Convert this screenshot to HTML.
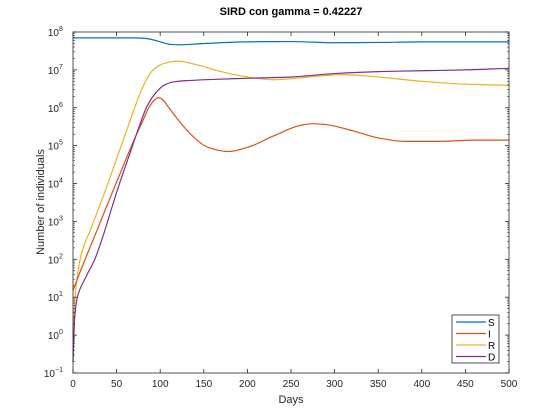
<!DOCTYPE html>
<html><head><meta charset="utf-8"><style>
html,body{margin:0;padding:0;background:#fff;}
svg{display:block;font-family:"Liberation Sans",Helvetica,Arial,sans-serif;}
</style></head><body>
<svg id="chart" width="560" height="420" viewBox="0 0 560 420" xmlns="http://www.w3.org/2000/svg">
<rect x="0" y="0" width="560" height="420" fill="#fff"/>
<rect x="73" y="32" width="436" height="341" fill="#fff"/>
<g id="marks"></g>
<g id="axes"></g>
<text x="291" y="15" text-anchor="middle" font-size="11" font-weight="bold" fill="#000">SIRD con gamma = 0.42227</text>
<text x="291" y="403" text-anchor="middle" font-size="11" fill="#262626">Days</text>
<text transform="translate(44,202) rotate(-90)" text-anchor="middle" font-size="11" fill="#262626">Number of individuals</text>
<g>
<rect x="452" y="315" width="47" height="48" fill="#fff" stroke="#262626" stroke-width="0.8"/>
<g id="legend-items"></g>
</g>
</svg>
<script>
const seriesNames = ["S","I","R","D"];
const seriesColors = ["#0072BD","#D95319","#EDB120","#7E2F8E"];
const xTicks = [0,50,100,150,200,250,300,350,400,450,500];
const yTickExps = [-1,0,1,2,3,4,5,6,7,8];

const sDays = [0,70,85,100,112,125,145,200,250,300,350,400,500];
const sVals = [7e7,7e7,6.7e7,5.5e7,4.7e7,4.6e7,4.9e7,5.5e7,5.6e7,5.2e7,5.3e7,5.5e7,5.5e7];

const iDays = [0,10,20,30,40,50,60,70,80,88,94,98,102,110,120,135,155,178,200,230,260,275,290,320,350,380,420,460,500];
const iVals = [15,60,220,800,3000,1.1e4,4e4,1.4e5,4.5e5,1.1e6,1.65e6,1.85e6,1.7e6,1e6,5e5,2e5,9e4,7e4,9e4,1.8e5,3.4e5,3.8e5,3.6e5,2.5e5,1.6e5,1.3e5,1.3e5,1.4e5,1.4e5];

const rDays = [0,3,10,20,30,40,50,60,70,80,90,100,110,120,140,170,200,230,270,310,350,400,450,500];
const rVals = [1,15,150,600,2400,1e4,4.5e4,2e5,9e5,3.5e6,9e6,1.35e7,1.6e7,1.7e7,1.4e7,9e6,6.5e6,5.5e6,6.5e6,7.5e6,6.5e6,5e6,4.2e6,3.9e6];

const dDays = [0,2,5,15,25,35,45,55,65,75,85,95,105,115,130,160,200,250,300,350,400,450,500];
const dVals = [0.2,3,10,35,100,450,2500,1.3e4,6e4,2.8e5,1.1e6,2.5e6,4e6,4.8e6,5.2e6,5.6e6,6e6,6.5e6,8e6,9e6,9.5e6,1e7,1.1e7];

const X0=73,X1=509,Y0=373,Y1=32;
const xs = d => X0 + (d-0)/(500-0)*(X1-X0);
const ys = v => Y0 - (Math.log10(v)-(-1))/9*(Y0-Y1);
const NS="http://www.w3.org/2000/svg";
function mk(tag, attrs, parent){const e=document.createElementNS(NS,tag);for(const k in attrs)e.setAttribute(k,attrs[k]);parent.appendChild(e);return e;}

function smoothPath(days, vals){
  const p = days.map((d,i)=>[xs(d), ys(vals[i])]);
  const n=p.length, dk=[], m=[];
  for(let i=0;i<n-1;i++) dk.push((p[i+1][1]-p[i][1])/(p[i+1][0]-p[i][0]));
  m[0]=dk[0]; m[n-1]=dk[n-2];
  for(let i=1;i<n-1;i++){
    if(dk[i-1]*dk[i]<=0) m[i]=0;
    else { const h0=p[i][0]-p[i-1][0], h1=p[i+1][0]-p[i][0];
      const w1=2*h1+h0, w2=h1+2*h0; m[i]=(w1+w2)/(w1/dk[i-1]+w2/dk[i]); }
  }
  let s="M"+p[0][0].toFixed(2)+","+p[0][1].toFixed(2);
  for(let i=0;i<n-1;i++){
    const h=(p[i+1][0]-p[i][0])/3;
    s+=" C"+(p[i][0]+h).toFixed(2)+","+(p[i][1]+m[i]*h).toFixed(2)+" "+(p[i+1][0]-h).toFixed(2)+","+(p[i+1][1]-m[i+1]*h).toFixed(2)+" "+p[i+1][0].toFixed(2)+","+p[i+1][1].toFixed(2);
  }
  return s;
}
const marks=document.getElementById("marks");
const allDays=[sDays,iDays,rDays,dDays], allVals=[sVals,iVals,rVals,dVals];
const order=[0,2,1,3];
order.forEach(k=>{
  const path=mk("path",{d:smoothPath(allDays[k],allVals[k]),fill:"none",stroke:seriesColors[k],"stroke-width":1.2},marks);
  
  
});

const ax=document.getElementById("axes");
mk("rect",{x:X0,y:Y1,width:X1-X0,height:Y0-Y1,fill:"none",stroke:"#262626","stroke-width":0.8},ax);
xTicks.forEach(t=>{
  const x=xs(t);
  mk("line",{x1:x,x2:x,y1:Y0,y2:Y0-4,stroke:"#262626","stroke-width":0.8},ax);
  mk("line",{x1:x,x2:x,y1:Y1,y2:Y1+4,stroke:"#262626","stroke-width":0.8},ax);
  const tx=mk("text",{x:x,y:Y0+14,"text-anchor":"middle","font-size":10,fill:"#262626"},ax);
  tx.textContent=t;
  
  
});
yTickExps.forEach(e=>{
  const y=ys(Math.pow(10,e));
  mk("line",{x1:X0,x2:X0+4,y1:y,y2:y,stroke:"#262626","stroke-width":0.8},ax);
  mk("line",{x1:X1,x2:X1-4,y1:y,y2:y,stroke:"#262626","stroke-width":0.8},ax);
  if(e<8){for(let mm=2;mm<=9;mm++){const ym=ys(mm*Math.pow(10,e));
    mk("line",{x1:X0,x2:X0+2,y1:ym,y2:ym,stroke:"#262626","stroke-width":0.6},ax);
    mk("line",{x1:X1,x2:X1-2,y1:ym,y2:ym,stroke:"#262626","stroke-width":0.6},ax);}}
  const tx=mk("text",{x:e<0?X0-18:X0-14,y:y+4,"text-anchor":"end","font-size":10,fill:"#262626"},ax);
  tx.textContent="10";
  
  
  const sup=mk("text",{x:e<0?X0-18:X0-14,y:y-1,"text-anchor":"start","font-size":7,fill:"#262626"},ax);
  sup.textContent=String(e).replace("-","\u2212");
  
  
});

const li=document.getElementById("legend-items");
seriesNames.forEach((n,i)=>{
  const y=322+i*11.5;
  const g=mk("g",{},li);
  
  
  mk("line",{x1:456,x2:486,y1:y,y2:y,stroke:seriesColors[i],"stroke-width":1.2},g);
  const t=mk("text",{x:488,y:y+4,"font-size":10,fill:"#000"},g);
  t.textContent=n;
});
</script>
</body></html>
